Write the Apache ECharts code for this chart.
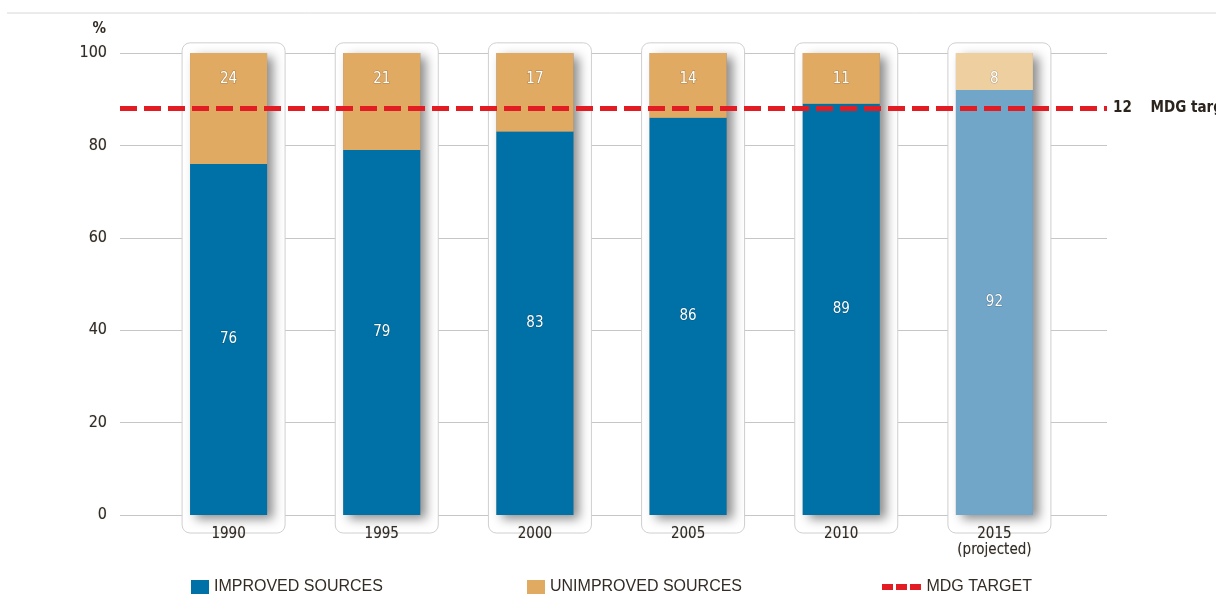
<!DOCTYPE html>
<html><head><meta charset="utf-8">
<script src="https://cdn.jsdelivr.net/npm/echarts@6/dist/echarts.min.js"></script>
<style>html,body{margin:0;padding:0;background:#fff}#c{width:1216px;height:598px}</style>
</head><body><div id="c"></div>
<script>
var categories = ['1990', '1995', '2000', '2005', '2010', '2015\n(projected)'];
var improved = [76, 79, 83, 86, 89, 92];
var unimproved = [24, 21, 17, 14, 11, 8];
var mdgTarget = 88;
var mdgGap = 12;
var yTicks = [0, 20, 40, 60, 80, 100];

var NARROW = '"DejaVu Sans Condensed","Liberation Sans Narrow",sans-serif';
var TXT = '#332c24';
var chart = echarts.init(document.getElementById('c'));

function barColors(base, proj) {
  return function (v, i) {
    return { value: v, itemStyle: { color: i === categories.length - 1 ? proj : base } };
  };
}

var option = {
  animation: false,
  graphic: [{ type: 'line', shape: { x1: 7, y1: 13, x2: 1216, y2: 13 }, style: { stroke: '#d8d8d8', lineWidth: 1 } }],
  grid: [
    { left: 120, right: 109, top: 53, bottom: 83 },
    { left: 152, right: 145, top: 53, bottom: 83 }
  ],
  xAxis: [
    { gridIndex: 0, type: 'value', min: 0, max: 1, show: false },
    { gridIndex: 1, type: 'category', data: categories, z: 6,
      axisLine: { show: false }, axisTick: { show: false },
      axisLabel: { margin: 11, color: TXT, fontFamily: NARROW, fontSize: 15, lineHeight: 16,
        textShadowColor: 'rgba(0,0,0,0.3)', textShadowBlur: 1 } }
  ],
  yAxis: [
    { gridIndex: 0, type: 'value', min: 0, max: 100, interval: 20,
      name: '%', nameLocation: 'end', nameGap: 16,
      nameTextStyle: { align: 'right', padding: [0, 14, 0, 0], color: TXT, fontFamily: NARROW, fontSize: 15, fontWeight: 'bold' },
      axisLine: { show: false }, axisTick: { show: false },
      axisLabel: { margin: 13, color: TXT, fontFamily: NARROW, fontSize: 16,
        textShadowColor: 'rgba(0,0,0,0.3)', textShadowBlur: 1,
        customValues: yTicks },
      splitLine: { lineStyle: { color: '#c6c6c6', width: 1.2 } } },
    { gridIndex: 1, type: 'value', min: 0, max: 100, show: false }
  ],
  legend: [
    { left: 191, top: 579, padding: 0, itemWidth: 18, itemHeight: 14, itemGap: 6, data: [{ name: 'IMPROVED SOURCES', icon: 'rect' }],
      textStyle: { color: TXT, fontSize: 16, fontFamily: '"Liberation Sans",Arial,sans-serif' } },
    { left: 527, top: 579, padding: 0, itemWidth: 18, itemHeight: 14, data: [{ name: 'UNIMPROVED SOURCES', icon: 'rect' }],
      textStyle: { color: TXT, fontSize: 16, fontFamily: '"Liberation Sans",Arial,sans-serif' } },
    { left: 882, top: 579, padding: 0, itemWidth: 40, itemHeight: 14,
      data: [{ name: 'MDG TARGET', icon: 'path://M0,4h11v6h-11z M14,4h11v6h-11z M28,4h11v6h-11z M0,0h0.01v0.01h-0.01z M0,14h0.01v0.01h-0.01z' }],
      textStyle: { color: TXT, fontSize: 16, fontFamily: '"Liberation Sans",Arial,sans-serif' } }
  ],
  series: [
    { type: 'custom', xAxisIndex: 1, yAxisIndex: 1, silent: true, clip: false, z: 1,
      data: categories.map(function (c, i) { return i; }),
      renderItem: function (params, api) {
        var top = api.coord([api.value(0), 102.2]);
        var bot = api.coord([api.value(0), -3.9]);
        var zero = api.coord([api.value(0), 0]);
        var full = api.coord([api.value(0), 100]);
        var w = 77;
        var x0 = top[0] - w / 2;
        return { type: 'group', children: [
          { type: 'rect', shape: { x: x0 - 8, y: top[1], width: w + 26, height: bot[1] - top[1], r: 8 },
            style: { fill: '#ffffff', stroke: '#cfcfcf', lineWidth: 1 } },
          { type: 'rect', shape: { x: x0, y: full[1], width: w, height: zero[1] - full[1] },
            style: { fill: '#888', shadowColor: 'rgba(0,0,0,0.45)', shadowBlur: 10, shadowOffsetX: 6, shadowOffsetY: 4 } }
        ] };
      } },
    { name: 'IMPROVED SOURCES', type: 'bar', xAxisIndex: 1, yAxisIndex: 1, stack: 'a', barWidth: 77, z: 3,
      itemStyle: { color: '#0071a6' },
      data: improved.map(barColors('#0071a6', '#71a6c9')),
      label: { show: true, position: 'inside', color: '#fff', fontFamily: NARROW, fontSize: 15,
        textBorderColor: 'rgba(0,0,0,0.25)', textBorderWidth: 1 } },
    { name: 'UNIMPROVED SOURCES', type: 'bar', xAxisIndex: 1, yAxisIndex: 1, stack: 'a', barWidth: 77, z: 3,
      itemStyle: { color: '#e0aa62' },
      data: unimproved.map(barColors('#e0aa62', '#edcfa0')),
      label: { show: true, position: 'insideTop', distance: 19, color: '#fff', fontFamily: NARROW, fontSize: 15,
        textBorderColor: 'rgba(0,0,0,0.25)', textBorderWidth: 1 } },
    { name: 'MDG TARGET', type: 'line', xAxisIndex: 0, yAxisIndex: 0, z: 10, symbol: 'none',
      itemStyle: { color: '#e31b23' },
      lineStyle: { color: '#e31b23', width: 5, type: [17, 7] },
      data: [[0, mdgTarget], [1, mdgTarget]],
      endLabel: { show: true, distance: 6, formatter: mdgGap + '    MDG target', color: '#2a241c',
        fontFamily: NARROW, fontSize: 15, fontWeight: 'bold' } }
  ]
};
chart.setOption(option);
</script></body></html>
